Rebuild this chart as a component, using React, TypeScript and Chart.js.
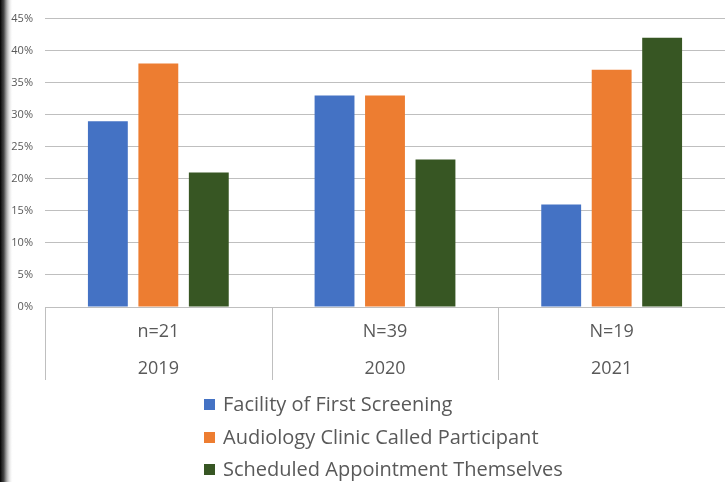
import React, { useEffect, useRef } from "react";
import { Chart, registerables } from "chart.js";

Chart.register(...registerables);

const categories = ["2019", "2020", "2021"];
const sampleSizes = ["n=21", "N=39", "N=19"];
const seriesNames = [
  "Facility of First Screening",
  "Audiology Clinic Called Participant",
  "Scheduled Appointment Themselves",
];
const facilityValues = [29, 33, 16];
const audiologyValues = [38, 33, 37];
const scheduledValues = [21, 23, 42];
const seriesColors = ["#4472C4", "#ED7D31", "#375623"];
const yTicks = [0, 5, 10, 15, 20, 25, 30, 35, 40, 45];

const FONT = "'Open Sans', sans-serif";
const TEXT = "#595959";

const decorPlugin = {
  id: "decor",
  beforeDraw(chart: any) {
    const ctx = chart.ctx;
    ctx.save();
    ctx.fillStyle = "#ffffff";
    ctx.fillRect(0, 0, chart.width, chart.height);
    const g = ctx.createLinearGradient(0, 0, 13, 0);
    g.addColorStop(0, "rgba(0,0,0,1)");
    g.addColorStop(0.3, "rgba(40,40,40,0.85)");
    g.addColorStop(1, "rgba(255,255,255,0)");
    ctx.fillStyle = g;
    ctx.fillRect(0, 0, 13, chart.height);
    ctx.restore();
  },
  afterDraw(chart: any) {
    const ctx = chart.ctx;
    const area = chart.chartArea;
    const n = categories.length;
    const w = (area.right - area.left) / n;
    ctx.save();
    ctx.strokeStyle = "#bfbfbf";
    ctx.lineWidth = 1;
    for (let i = 0; i <= n; i++) {
      const x = Math.round(area.left + i * w) + 0.5;
      ctx.beginPath();
      ctx.moveTo(x, area.bottom);
      ctx.lineTo(x, area.bottom + 73);
      ctx.stroke();
    }
    ctx.fillStyle = TEXT;
    ctx.textAlign = "center";
    ctx.textBaseline = "middle";
    ctx.font = `18px ${FONT}`;
    for (let i = 0; i < n; i++) {
      const cx = chart.scales.x.getPixelForValue(i);
      ctx.fillText(sampleSizes[i], cx, area.bottom + 25);
      ctx.fillText(categories[i], cx, area.bottom + 62);
    }
    // legend
    ctx.textAlign = "left";
    ctx.font = `20px ${FONT}`;
    const ys = [404, 437, 469];
    for (let i = 0; i < seriesNames.length; i++) {
      ctx.fillStyle = seriesColors[i];
      ctx.fillRect(204, ys[i] - 5, 11, 11);
      ctx.fillStyle = TEXT;
      ctx.fillText(seriesNames[i], 223, ys[i] + 1);
    }
    ctx.restore();
  },
};

export default function App() {
  const ref = useRef<HTMLCanvasElement | null>(null);
  useEffect(() => {
    if (!ref.current) return;
    const chart = new Chart(ref.current, {
      type: "bar",
      data: {
        labels: categories,
        datasets: [
          { label: seriesNames[0], data: facilityValues, backgroundColor: seriesColors[0] },
          { label: seriesNames[1], data: audiologyValues, backgroundColor: seriesColors[1] },
          { label: seriesNames[2], data: scheduledValues, backgroundColor: seriesColors[2] },
        ],
      },
      options: {
        animation: false,
        responsive: false,
        maintainAspectRatio: false,
        layout: { padding: { top: 18, bottom: 102, left: 0, right: 0 } },
        datasets: {
          bar: { categoryPercentage: 0.668, barPercentage: 0.79 },
        },
        plugins: { legend: { display: false }, tooltip: { enabled: false } },
        scales: {
          x: {
            grid: { display: false },
            border: { display: false },
            ticks: { display: false },
            afterFit: (s: any) => {
              s.height = 73;
            },
          },
          y: {
            min: 0,
            max: 45,
            afterBuildTicks: (s: any) => {
              s.ticks = yTicks.map((v) => ({ value: v }));
            },
            grid: { color: "#bfbfbf", lineWidth: 1, drawTicks: false },
            border: { display: false },
            ticks: {
              padding: 12,
              color: TEXT,
              font: { family: FONT, size: 11 },
              callback: (v: any) => `${v}%`,
            },
            afterFit: (s: any) => {
              s.width = 45;
            },
          },
        },
      },
      plugins: [decorPlugin],
    });
    return () => chart.destroy();
  }, []);
  return (
    <div style={{ position: "fixed", left: 0, top: 0, width: 725, height: 482, background: "#fff" }}>
      <canvas ref={ref} width={725} height={482} style={{ display: "block" }} />
    </div>
  );
}
